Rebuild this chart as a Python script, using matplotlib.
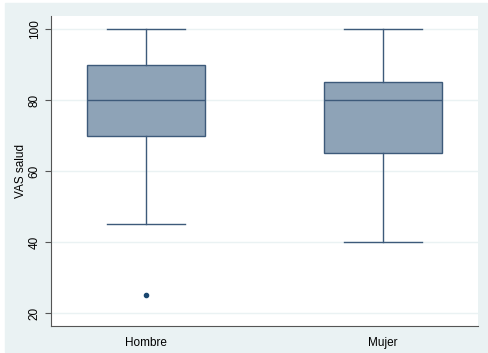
import matplotlib.pyplot as plt

plt.rcParams['font.family'] = ['Liberation Sans', 'DejaVu Sans']

groups = ["Hombre", "Mujer"]
whislo = [45, 40]
q1 = [70, 65]
med = [80, 80]
q3 = [90, 85]
whishi = [100, 100]
outliers = [[25], []]

stats = []
for i in range(len(groups)):
    stats.append(dict(label=groups[i], whislo=whislo[i], q1=q1[i], med=med[i],
                      q3=q3[i], whishi=whishi[i], fliers=outliers[i]))

bg = "#eaf2f3"
edge = "#3d5a7a"
fill = "#8ea3b7"

fig = plt.figure(figsize=(4.88, 3.53), dpi=100, facecolor="white")
fig.patches.append(plt.Rectangle((0.01, 0.003), 0.988, 0.988, transform=fig.transFigure,
                                 color=bg, zorder=-10))
ax = fig.add_axes([51/488, 1-326/353, 427/488, 310/353])
ax.set_facecolor("white")

ax.bxp(stats, positions=[1, 2], widths=0.5, patch_artist=True,
       boxprops=dict(facecolor=fill, edgecolor=edge, linewidth=1.0),
       medianprops=dict(color=edge, linewidth=1.0),
       whiskerprops=dict(color=edge, linewidth=1.0),
       capprops=dict(color=edge, linewidth=1.0),
       capwidths=0.33,
       flierprops=dict(marker="o", markersize=3, markerfacecolor="#1a476f",
                       markeredgecolor="#1a476f"))

ax.set_xlim(0.6, 2.4)
ax.set_ylim(16.4, 103.7)
ax.set_yticks([20, 40, 60, 80, 100])
ax.grid(axis="y", color=bg, linewidth=1)
ax.set_axisbelow(True)
for s in ["top", "right"]:
    ax.spines[s].set_visible(False)
for s in ["left", "bottom"]:
    ax.spines[s].set_color("#555555")
ax.tick_params(axis="y", labelrotation=90, labelsize=8.5, length=4, color="#555555")
ax.tick_params(axis="x", labelsize=8.5, length=0, pad=8)
for t in ax.get_yticklabels():
    t.set_verticalalignment("center")
ax.set_ylabel("VAS salud", fontsize=8.5, labelpad=1)

fig.savefig("out.png", dpi=100, facecolor=fig.get_facecolor())
